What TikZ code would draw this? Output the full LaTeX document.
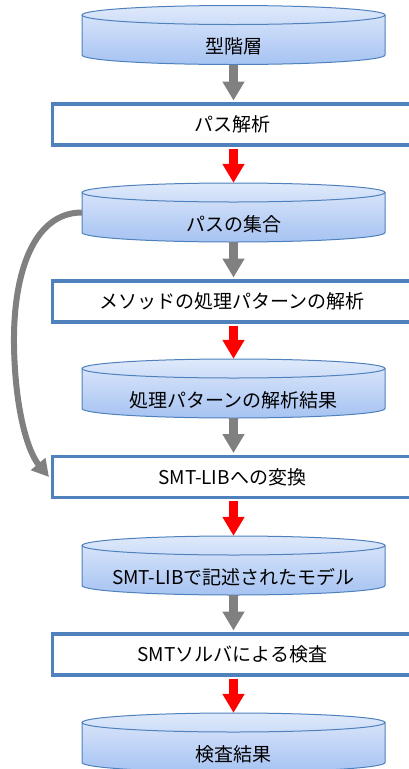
\documentclass[tikz,border=0pt]{standalone}
\usepackage{fontspec}
\setmainfont{Noto Sans CJK JP}
\usetikzlibrary{arrows.meta}
\definecolor{boxblue}{HTML}{4F81BD}
\definecolor{cyltop}{HTML}{DFE9FB}
\definecolor{cylbot}{HTML}{A6C3F2}
\definecolor{arrgray}{HTML}{808080}
\definecolor{arrred}{HTML}{FF0000}
\tikzset{
  procbox/.style={draw=boxblue, line width=3.5pt, fill=white, minimum width=359.5pt, minimum height=41pt, inner sep=0pt, font=\fontsize{19}{21}\selectfont},
  cylbox/.style={minimum width=303pt, minimum height=59pt, inner sep=0pt},
  cyltext/.style={font=\fontsize{19}{21}\selectfont, inner sep=0pt},
  cylshade/.style={top color=cyltop, bottom color=cylbot},
  cylline/.style={draw=boxblue, line width=1pt},
  grayarrow/.style={draw=arrgray, line width=9.5pt, -{Triangle[width=21pt,length=19pt]}},
  redarrow/.style={draw=arrred, line width=9.5pt, -{Triangle[width=21pt,length=19pt]}},
  curvearrow/.style={draw=arrgray, line width=6pt, -{Triangle[width=18pt,length=17pt]}}
}
\newcommand\mycyl[3]{%
  \shade[cylshade] (82,{-#2+20}) -- (82,{-#2-20}) arc[start angle=180,end angle=360,x radius=151.5,y radius=9.5] -- (385,{-#2+20}) arc[start angle=0,end angle=180,x radius=151.5,y radius=9.5] -- cycle;
  \draw[cylline] (82,{-#2+20}) -- (82,{-#2-20}) arc[start angle=180,end angle=360,x radius=151.5,y radius=9.5] -- (385,{-#2+20});
  \draw[cylline] (233.5,{-#2+20}) ellipse[x radius=151.5,y radius=9.5];
  \node[cylbox] (#1) at (233.5,-#2) {};
  \node[cyltext] (#1t) at (233.5,{-#2-11.5}) {#3};
}
\begin{document}
\begin{tikzpicture}[x=1pt,y=1pt]
\useasboundingbox (0,0) rectangle (408,-769);
\fill[white] (0,0) rectangle (408,-769);
\mycyl{c1}{35}{型階層}
\mycyl{c2}{212.5}{パスの集合}
\mycyl{c3}{388.5}{処理パターンの解析結果}
\mycyl{c4}{565.5}{SMT-LIBで記述されたモデル}
\mycyl{c5}{742.5}{検査結果}
\node[procbox] (r1) at (232.25,-124.5) {パス解析};
\node[procbox] (r2) at (232.25,-301.5) {メソッドの処理パターンの解析};
\node[procbox] (r3) at (232.25,-477) {SMT-LIBへの変換};
\node[procbox] (r4) at (232.25,-654.5) {SMTソルバによる検査};
\draw[grayarrow] (c1.south) -- ([yshift=1.75pt]c1.south |- r1.north);
\draw[grayarrow] (c2.south) -- ([yshift=1.75pt]c2.south |- r2.north);
\draw[grayarrow] (c3.south) -- ([yshift=1.75pt]c3.south |- r3.north);
\draw[grayarrow] (c4.south) -- ([yshift=1.75pt]c4.south |- r4.north);
\draw[redarrow] ([yshift=-1.75pt]c2.north |- r1.south) -- (c2.north);
\draw[redarrow] ([yshift=-1.75pt]c3.north |- r2.south) -- (c3.north);
\draw[redarrow] ([yshift=-1.75pt]c4.north |- r3.south) -- (c4.north);
\draw[redarrow] ([yshift=-1.75pt]c5.north |- r4.south) -- (c5.north);
\draw[curvearrow] (c2.west) .. controls (35,-212.5) and (13,-270) .. (14,-345) .. controls (15,-410) and (28,-452) .. ([xshift=-1.75pt]r3.west);
\end{tikzpicture}
\end{document}
